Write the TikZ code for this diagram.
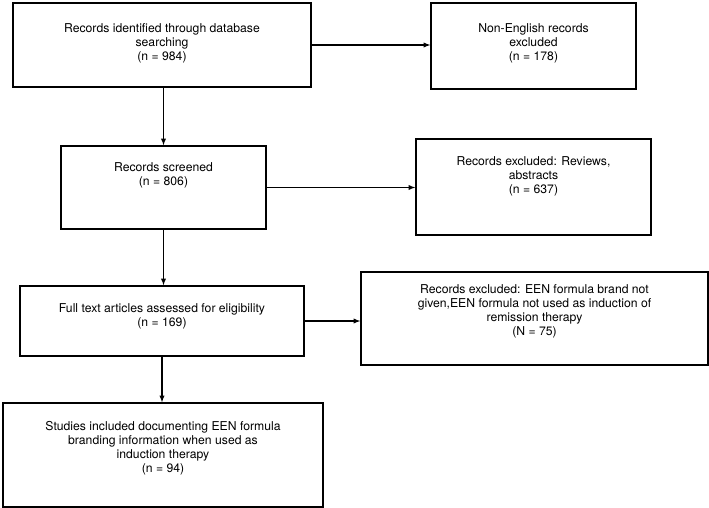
\documentclass[tikz,border=0pt]{standalone}
\usepackage{fontspec}
\setmainfont{TeX Gyre Heros}
\begin{document}
\begin{tikzpicture}[>=latex, x=1pt, y=-1pt,
		box/.style={draw, rectangle, line width=1.3pt, align=center, inner sep=0pt, font=\fontsize{12.2}{14}\selectfont},
		lift/.style={text depth=#1}]
		\useasboundingbox (0,0) rectangle (709,508);
		\node (A)[box, minimum width=298pt, minimum height=84pt, lift=5pt]at (162,45) {Records identified through database\\searching\\(n = 984)};
		\node (C)[box, minimum width=205pt, minimum height=86pt, lift=7pt]at (533.5,46) {Non-English records\\excluded\\(n = 178)};
		\node (B)[box, minimum width=205pt, minimum height=83pt, lift=27pt]at (163.5,187.5) {Records screened\\(n = 806)};
		\node (D)[box, minimum width=235pt, minimum height=96pt, lift=24pt]at (533.5,187) {Records excluded: Reviews,\\abstracts\\(n = 637)};
		\node (E)[box, minimum width=284pt, minimum height=70pt, lift=11pt]at (162,321) {Full text articles assessed for eligibility\\(n = 169)};
		\node (F)[box, minimum width=347pt, minimum height=93pt, lift=17pt]at (534.5,318.5) {Records excluded: EEN formula brand not\\given,EEN formula not used as induction of\\remission therapy\\(N = 75)};
		\node (G)[box, minimum width=320pt, minimum height=104pt, lift=16pt]at (163,455) {Studies included documenting EEN formula\\branding information when used as\\induction therapy\\(n = 94)};
		\draw[->, line width=1.3pt](A.east)--(A.east -| C.west);
		\draw[->, line width=1.3pt](B.east)--(B.east -| D.west);
		\draw[->, line width=1.3pt](E.east)--(E.east -| F.west);
		\draw[->, line width=1.3pt](A.south -| B.north)--(B.north);
		\draw[->, line width=1.3pt](B.south)--(B.south |- E.north);
		\draw[->, line width=1.3pt](E.south)--(E.south |- G.north);
	\end{tikzpicture}
\end{document}
